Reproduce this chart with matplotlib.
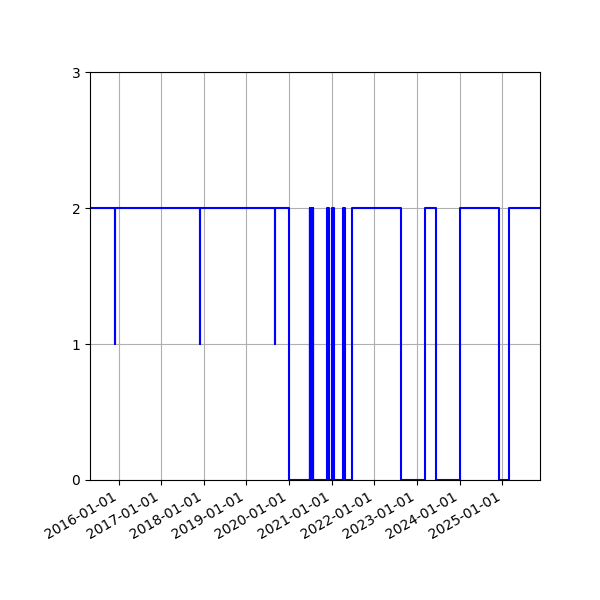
import pandas as pd
import matplotlib
matplotlib.use('Agg')
from matplotlib import pyplot as plt
import matplotlib.dates as mdates

# change points of the state series (each value holds until the next date)
dates = ['2015-05-01', '2015-12-03', '2015-12-04',
         '2017-12-01', '2017-12-02',
         '2019-09-03', '2019-09-04',
         '2020-01-01',
         '2020-06-24', '2020-06-27', '2020-06-29', '2020-07-02', '2020-07-04', '2020-07-07',
         '2020-07-09', '2020-07-12', '2020-07-14', '2020-07-17', '2020-07-19', '2020-07-22',
         '2020-07-24', '2020-07-27',
         '2020-11-25', '2020-12-08',
         '2021-01-03', '2021-01-24',
         '2021-04-07', '2021-04-26',
         '2021-06-21', '2022-08-18',
         '2023-03-10', '2023-06-12',
         '2024-01-08', '2024-12-06',
         '2025-02-27', '2025-11-20']
values = [2, 1, 2,
          1, 2,
          1, 2,
          0,
          2, 0, 2, 0, 2, 0,
          2, 0, 2, 0, 2, 0,
          2, 0,
          2, 0,
          2, 0,
          2, 0,
          2, 0,
          2, 0,
          2, 0,
          2, 2]

x = pd.to_datetime(dates)

fig = plt.figure(figsize=(6, 6), dpi=100)
ax = fig.add_subplot(111)
ax.step(x, values, where='post', color='blue')
ax.set_xlim(x[0], x[-1])
ax.set_ylim(0, 3)
ax.set_yticks([0, 1, 2, 3])
ax.xaxis.set_major_locator(mdates.YearLocator())
ax.xaxis.set_major_formatter(mdates.DateFormatter('%Y-%m-%d'))
ax.grid(True)
fig.autofmt_xdate()
fig.subplots_adjust(left=0.15, right=0.9, top=0.88, bottom=0.2)
plt.savefig('out.png')
